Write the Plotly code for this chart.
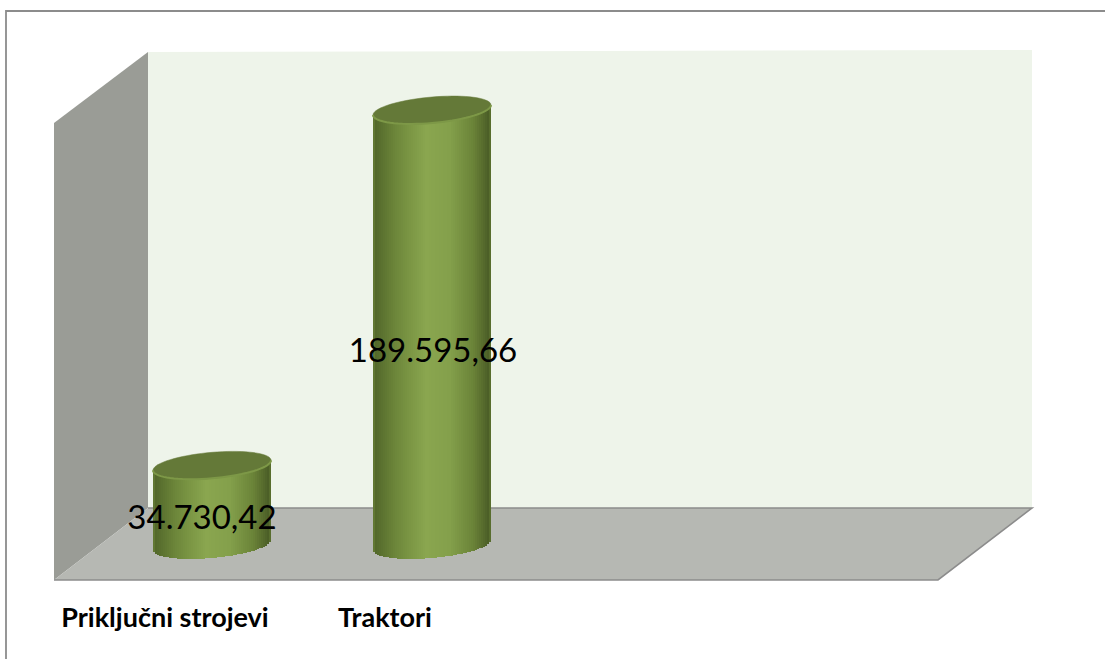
import numpy as np
import plotly.graph_objects as go

categories = ["Priključni strojevi", "Traktori"]
values = [34730.42, 189595.66]
value_labels = ["34.730,42", "189.595,66"]
label_height_share = [0.30, 0.44]
label_shift_px = [-10, 1]

W, H = 1105, 659
BASE_PX = 545
PX_PER_VALUE = 435 / 189595.66
PX_PER_CAT = 220
CAT0_PX = 165
BAR_SHIFT_PX = 47
HALF_W = 59
STRIP = 2
TILT = 5
DEPTH = 13

STOPS_U = [-1.0, -0.97, -0.6, -0.1, 0.3, 0.7, 0.97, 1.0]
STOPS_R = [0x74, 0x52, 0x6e, 0x8a, 0x84, 0x6a, 0x4a, 0x6a]
STOPS_G = [0x8f, 0x67, 0x88, 0xa6, 0xa0, 0x83, 0x5c, 0x82]
STOPS_B = [0x3f, 0x2a, 0x3b, 0x4f, 0x4b, 0x38, 0x26, 0x38]


def shade(u):
    r = np.interp(u, STOPS_U, STOPS_R)
    g = np.interp(u, STOPS_U, STOPS_G)
    b = np.interp(u, STOPS_U, STOPS_B)
    return f"rgb({r:.0f},{g:.0f},{b:.0f})"


def px_x(p):
    return p / W


def px_y(p):
    return 1 - p / H


def poly(points, fill):
    path = "M " + " L ".join(f"{px_x(x):.5f},{px_y(y):.5f}" for x, y in points) + " Z"
    return dict(type="path", path=path, xref="paper", yref="paper", layer="below",
                fillcolor=fill, line=dict(color=fill, width=0))


def seg(points, color, lw):
    path = "M " + " L ".join(f"{px_x(x):.5f},{px_y(y):.5f}" for x, y in points)
    return dict(type="path", path=path, xref="paper", yref="paper", layer="below",
                line=dict(color=color, width=lw))


shapes = [
    poly([(148, 52), (1032, 50), (1032, 508), (148, 508)], "#eef4ea"),
    poly([(148, 52), (54, 123), (54, 580), (148, 508)], "#9a9c96"),
    poly([(148, 508), (1032, 508), (938, 580), (54, 580)], "#b6b8b3"),
    seg([(148, 508), (1032, 508), (938, 580), (54, 580)], "#8c8c8c", 1.6),
    seg([(6, 659), (6, 11), (1105, 11)], "#8c8c8c", 1.8),
]

x_step = 1 / PX_PER_CAT
shift = BAR_SHIFT_PX * x_step
fig = go.Figure()

for i, v in enumerate(values):
    us = (np.arange(-HALF_W + STRIP / 2, HALF_W, STRIP)) / HALF_W
    cx = i + shift
    xs = cx + us * HALF_W * x_step
    lower = (-TILT * us + DEPTH * np.sqrt(1 - us**2)) / PX_PER_VALUE
    upper = v + TILT * us / PX_PER_VALUE
    fig.add_trace(go.Bar(
        x=xs, base=-lower, y=upper + lower, width=STRIP * x_step,
        marker=dict(color=[shade(u) for u in us], line=dict(width=0)),
        name=categories[i], hoverinfo="skip", showlegend=False,
    ))
    t = np.linspace(0, 2 * np.pi, 73)
    ex = cx + HALF_W * np.cos(t) * x_step
    ey = v + (TILT * np.cos(t) + DEPTH * np.sin(t)) / PX_PER_VALUE
    path = "M " + " L ".join(f"{a:.5f},{b:.2f}" for a, b in zip(ex, ey)) + " Z"
    shapes.append(dict(type="path", path=path, xref="x", yref="y", layer="above",
                       fillcolor="#647938", line=dict(color="#647938", width=0.5)))
    # lighter rim along the front edge of the cap
    t2 = np.linspace(np.pi, 2 * np.pi, 37)
    rx = cx + HALF_W * np.cos(t2) * x_step
    ry = v + (TILT * np.cos(t2) + DEPTH * np.sin(t2)) / PX_PER_VALUE
    rim = "M " + " L ".join(f"{a:.5f},{b:.2f}" for a, b in zip(rx, ry))
    shapes.append(dict(type="path", path=rim, xref="x", yref="y", layer="above",
                       line=dict(color="#7d9847", width=2)))

fig.add_trace(go.Scatter(
    x=[i + shift + label_shift_px[i] * x_step for i in range(len(values))],
    y=[v * s for v, s in zip(values, label_height_share)],
    mode="text", text=value_labels, showlegend=False, hoverinfo="skip",
    textposition="middle center",
    textfont=dict(family="Lato", size=33, color="#000000"),
))

fig.update_layout(
    width=W, height=H, margin=dict(l=0, r=0, t=0, b=0),
    paper_bgcolor="#ffffff", plot_bgcolor="rgba(0,0,0,0)",
    barmode="overlay", bargap=0, shapes=shapes, showlegend=False,
    xaxis=dict(
        range=[-CAT0_PX * x_step, (W - CAT0_PX) * x_step],
        tickmode="array", tickvals=[0, 1], ticktext=categories,
        anchor="free", position=1 - BASE_PX / H,
        showgrid=False, zeroline=False, showline=False, ticks="",
        ticklabelstandoff=54,
        tickfont=dict(family="Lato", size=27, color="#000000", weight=700),
    ),
    yaxis=dict(
        range=[-(H - BASE_PX) / PX_PER_VALUE, BASE_PX / PX_PER_VALUE],
        visible=False, domain=[0, 1],
    ),
)

fig.write_html("out.html", config={"displayModeBar": False},
               post_script="document.body.style.margin='0';")
